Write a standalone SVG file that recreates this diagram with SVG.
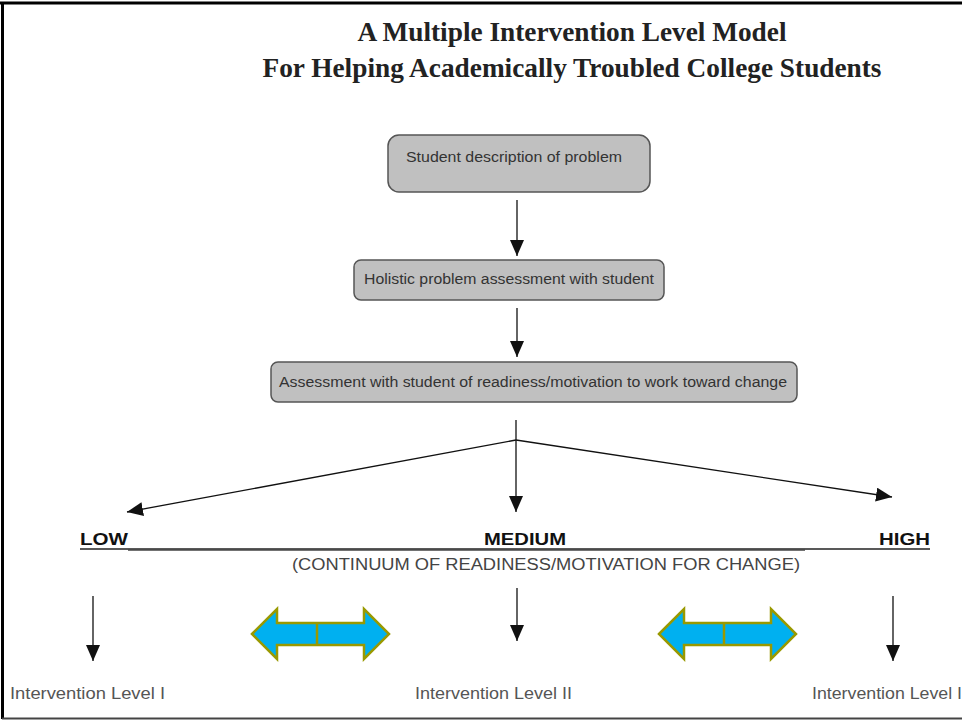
<svg xmlns="http://www.w3.org/2000/svg" width="962" height="721" viewBox="0 0 962 721">
  <style>
    .title { font-family: "Liberation Serif", "Times New Roman", serif; font-weight: bold; font-size: 28px; fill: #222; text-anchor: middle; }
    .box { fill: #c0c0c0; stroke: #555; stroke-width: 1.5; }
    .boxtext { font-family: "Liberation Sans", Arial, sans-serif; font-size: 14px; fill: #333; }
    .level { font-family: "Liberation Sans", Arial, sans-serif; font-weight: bold; font-size: 17px; fill: #111; }
    .caption { font-family: "Liberation Sans", Arial, sans-serif; font-size: 16px; fill: #444; }
    .out { font-family: "Liberation Sans", Arial, sans-serif; font-size: 16px; fill: #555; }
    .conn { stroke: #111; stroke-width: 1.3; fill: none; }
    .dbl { fill: #00b0f0; stroke: #999900; stroke-width: 2.5; stroke-linejoin: miter; }
  </style>
  <defs>
    <marker id="headL" viewBox="0 0 16 14" refX="16" refY="7" markerWidth="16" markerHeight="14" markerUnits="userSpaceOnUse" orient="auto">
      <path d="M0,0 L16,7 L0,14 Z" fill="#111"/>
    </marker>
    <path id="twoway" d="M0,0 L25,-25 L25,-11 L112,-11 L112,-25 L137,0 L112,25 L112,11 L25,11 L25,25 Z"/>
  </defs>

  <rect width="962" height="721" fill="#fff"/>
  <!-- frame -->
  <line x1="0" y1="3" x2="962" y2="3" stroke="#000" stroke-width="3"/>
  <line x1="2.5" y1="2" x2="2.5" y2="719" stroke="#000" stroke-width="3"/>
  <line x1="2" y1="718.5" x2="962" y2="718.5" stroke="#444" stroke-width="2"/>

  <g id="title">
    <text class="title" x="572" y="41" textLength="429" lengthAdjust="spacingAndGlyphs">A Multiple Intervention Level Model</text>
    <text class="title" x="572" y="77" textLength="619" lengthAdjust="spacingAndGlyphs">For Helping Academically Troubled College Students</text>
  </g>

  <g id="node-description">
    <rect class="box" x="388" y="135" width="262" height="57" rx="11"/>
    <text class="boxtext" x="406" y="162" textLength="216" lengthAdjust="spacingAndGlyphs">Student description of problem</text>
  </g>
  <g id="node-holistic">
    <rect class="box" x="354" y="260" width="310" height="40" rx="7"/>
    <text class="boxtext" x="364" y="284" textLength="290" lengthAdjust="spacingAndGlyphs">Holistic problem assessment with student</text>
  </g>
  <g id="node-readiness">
    <rect class="box" x="271" y="362" width="526" height="40" rx="7"/>
    <text class="boxtext" x="279" y="387" textLength="508" lengthAdjust="spacingAndGlyphs">Assessment with student of readiness/motivation to work toward change</text>
  </g>

  <g id="connectors">
    <line class="conn" x1="517" y1="200" x2="517" y2="256" marker-end="url(#headL)"/>
    <line class="conn" x1="517" y1="308" x2="517" y2="357" marker-end="url(#headL)"/>
    <line class="conn" x1="516" y1="420" x2="516" y2="512" marker-end="url(#headL)"/>
    <line class="conn" x1="516" y1="440" x2="127" y2="512" marker-end="url(#headL)"/>
    <line class="conn" x1="516" y1="440" x2="892" y2="497" marker-end="url(#headL)"/>
    <line class="conn" x1="93" y1="596" x2="93" y2="661" marker-end="url(#headL)"/>
    <line class="conn" x1="517" y1="588" x2="517" y2="641" marker-end="url(#headL)"/>
    <line class="conn" x1="893" y1="596" x2="893" y2="661" marker-end="url(#headL)"/>
  </g>

  <g id="continuum">
    <line x1="80" y1="549" x2="930" y2="549" stroke="#222" stroke-width="1.3"/>
    <line x1="128" y1="550" x2="805" y2="550" stroke="#444" stroke-width="1.5"/>
    <text class="level" x="80" y="545" textLength="48" lengthAdjust="spacingAndGlyphs">LOW</text>
    <text class="level" x="484" y="545" textLength="82" lengthAdjust="spacingAndGlyphs">MEDIUM</text>
    <text class="level" x="879" y="545" textLength="51" lengthAdjust="spacingAndGlyphs">HIGH</text>
    <text class="caption" x="292" y="570" textLength="508" lengthAdjust="spacingAndGlyphs">(CONTINUUM OF READINESS/MOTIVATION FOR CHANGE)</text>
  </g>

  <g id="exchange-left">
    <use href="#twoway" class="dbl" x="252" y="634"/>
    <line x1="317" y1="623" x2="317" y2="645" stroke="#999900" stroke-width="2.5"/>
  </g>
  <g id="exchange-right">
    <use href="#twoway" class="dbl" x="659" y="634"/>
    <line x1="724" y1="623" x2="724" y2="645" stroke="#999900" stroke-width="2.5"/>
  </g>

  <g id="node-level-1">
    <text class="out" x="10" y="699" textLength="155" lengthAdjust="spacingAndGlyphs">Intervention Level I</text>
  </g>
  <g id="node-level-2">
    <text class="out" x="415" y="699" textLength="157" lengthAdjust="spacingAndGlyphs">Intervention Level II</text>
  </g>
  <g id="node-level-3">
    <text class="out" x="812" y="699" textLength="150" lengthAdjust="spacingAndGlyphs">Intervention Level I</text>
  </g>
</svg>
